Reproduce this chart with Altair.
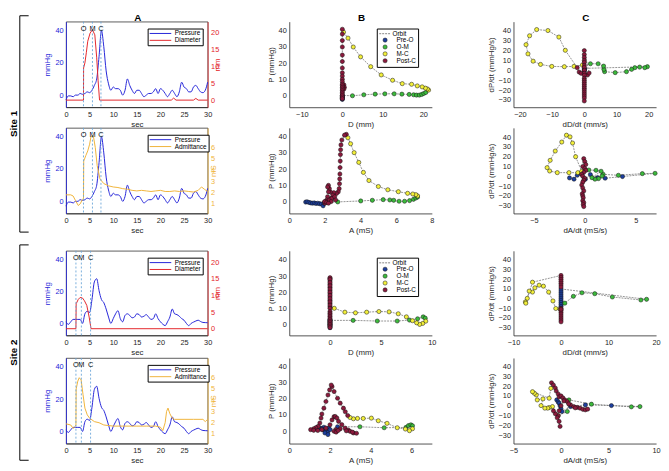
import altair as alt
import pandas as pd

FONT = "Liberation Sans"
BLUE = "#2424d8"
RED = "#e3262a"
GOLD = "#f0b43a"
EVC = "#6aa6d8"
AXC = "#262626"

# ---------------- column A : time series ----------------
T_P = [0, 0.5, 1, 1.5, 2, 2.5, 3, 3.5, 4, 4.5, 5, 5.5, 6, 6.5, 7, 7.5, 8, 8.5, 9, 9.5,
       10, 10.5, 11, 11.5, 12, 12.5, 13, 13.5, 14, 14.5, 15, 15.5, 16, 16.5, 17, 17.5, 18, 18.5, 19, 19.5,
       20, 20.5, 21, 21.5, 22, 22.5, 23, 23.5, 24, 24.5, 25, 25.5, 26, 26.5, 27, 27.5, 28, 28.5, 29, 29.5, 30]
P_SITE1 = [-3, -0.5, -0.5, -1, 0, 0, 1, 0.5, 1, 2, 1.5, 3, 6, 10, 24, 40, 30, 15, 7, 3,
           5, 4, 4, 3, 0, 3, 10, 6, 3, 1, 3, 3, 1, -1, 0, 1, 1, 2, 4, 1,
           4, 3, 1, -1, 1, 3, 1, -1, 2, 8, 5, 4, 2, 2, 5, 6, 4, 2, 1.5, 3, 8]
P_SITE2 = [1, -0.6, 1, 2.5, 2.5, 2.5, 2.5, 0, 6, 7.6, 6.8, 15, 26, 28, 20.5, 15, 13, 9, 4, 0,
           3, 6, 8, 3, 1, 5, 6, 5, 3.5, 4, 6, 5.5, 4, 4.5, 5.5, 4, 2.5, 3, 6, 3,
           1, -0.5, -1.4, 1, 4, 9, 6, 5.5, 4.5, 3, 2, 0, -1.4, 0, 0.8, 1.5, 2, 1.2, 0.6, 0.5, 0.4]

D1_T = [0, 3.7, 3.72, 4.0, 4.3, 4.6, 5.1, 5.6, 6.1, 6.5, 6.8, 7.1, 22.3, 22.8, 23.3, 27.0, 27.5, 28.0, 30]
D1_V = [0, 0, 9.5, 11, 14, 17.4, 19.8, 20.8, 19.3, 12.5, 5.7, 0, 0, 0.6, 0, 0, 0.5, 0, 0]
A1_T = [0, 1, 1.5, 2, 2.6, 3.0, 3.5, 3.7, 3.75, 4.2, 4.6, 5.0, 5.3, 5.8, 6.2, 6.6, 7.2, 8, 9, 10,
        11, 12, 13, 14, 15, 16, 17, 18, 19, 20, 21, 22, 23, 24, 25, 26, 27, 28, 28.7, 29.3, 30]
A1_V = [1.8, 1.8, 1.7, 1.3, 0.85, 1.0, 1.4, 1.5, 4.8, 5.3, 5.7, 6.3, 7.0, 7.0, 6.0, 4.4, 3.2, 2.8, 2.6, 2.5,
        2.45, 2.35, 2.3, 2.2, 2.15, 2.2, 2.15, 2.1, 2.15, 2.2, 2.1, 2.1, 2.15, 2.1, 2.15, 2.1, 2.05, 2.2, 2.5, 2.3, 2.1]
D2_T = [0, 2.1, 2.15, 2.6, 3.0, 3.5, 3.9, 4.4, 4.9, 5.3, 30]
D2_V = [0, 0, 7.5, 8.8, 9.4, 9.2, 8.4, 7.0, 3.5, 0, 0]
A2_T = [0, 1, 1.5, 2.0, 2.1, 2.15, 2.5, 2.8, 3.2, 3.6, 4.0, 4.5, 5.0, 6, 7, 8, 10, 12, 15, 17,
        19, 20, 20.5, 21, 21.3, 21.6, 22, 22.5, 23, 25, 27, 29, 29.5, 30]
A2_V = [1.9, 1.8, 1.5, 1.7, 1.8, 5.0, 5.7, 6.0, 5.8, 4.5, 3.3, 2.7, 2.4, 2.1, 2.0, 1.8, 1.7, 1.7, 1.7, 1.7,
        1.7, 1.6, 1.3, 2.0, 3.0, 3.3, 2.8, 2.4, 2.3, 2.3, 2.3, 2.3, 2.1, 2.3]
EVENT_LABELS = ["O", "M", "C"]
EV_SITE1 = [3.7, 5.6, 7.4]
EV_SITE2 = [2.1, 3.25, 5.2]

# ---------------- columns B and C : phase plots (x list, y list) ----------------
GROUPS = ["Pre-O", "O-M", "M-C", "Post-C"]
FILLS = ["#1d3f9e", "#3cba3c", "#f2ef3a", "#8b1a3d"]

B1_PRE = ([0, 0, 0, 0, 0, 0], [-0.5, -1.5, -2.5, -2, -1, 0])
B1_OM = ([2.5, 5.3, 8.1, 10.5, 12.8, 14.7, 16.5, 17.6, 18.3, 19.0, 19.6, 20.1, 20.6],
         [-0.2, 0.4, 0.8, 1.0, 1.0, 0.8, 0.6, 0.4, 0.2, 0.2, 0.6, 1.2, 1.8])
B1_MC = ([21.3, 21.0, 20.5, 19.7, 18.5, 17.1, 14.8, 12.4, 9.6, 7.0, 4.5, 2.7, 1.4, 0.3],
         [3.3, 4.0, 4.5, 5.3, 5.9, 6.9, 7.3, 9.4, 12.7, 17.8, 23.9, 30.0, 35.5, 39.2])
B1_PC = ([0, 0, 0, 0, 0, 0, 0, 0, 0, 0, 0.4, 0.5, 0.4, 0, 0, 0, 0, 0, 0, 0, 0, 0, 0, 0],
         [41, 38, 34, 30, 25, 21, 17, 14, 12, 10, 6.5, 5, 4, 8.5, 7, 6, 5, 4, 3, 2, 1, 0, -1, -2])

B2_PRE = ([0.92, 1.0, 1.1, 1.2, 1.3, 1.4, 1.5, 1.6, 1.7, 1.8, 1.9, 1.95, 2.0],
          [-0.3, -0.1, -0.5, -0.8, -1.0, -0.8, -1.2, -1.0, -1.3, -1.5, -2.6, -1.0, -0.5])
B2_OM = ([2.72, 4.01, 4.66, 5.27, 5.64, 5.86, 6.16, 6.47, 6.75, 6.97, 7.1, 7.2],
         [-0.2, 0.4, 0.8, 1.2, 1.0, 0.8, 0.2, 0.2, 0.6, 1.4, 2.2, 2.8])
B2_MC = ([7.2, 7.1, 6.93, 6.64, 6.12, 5.53, 5.0, 4.47, 4.16, 3.9, 3.64, 3.44, 3.29],
         [3.5, 4.3, 4.7, 5.1, 6.1, 7.3, 9.3, 13, 18, 24.2, 30.2, 35.7, 39.4])
B2_PC = ([3.2, 3.1, 2.95, 2.9, 2.88, 2.87, 2.86, 2.85, 2.84, 2.83, 2.82, 2.8, 2.75, 2.65, 2.5, 2.45, 2.35,
          2.3, 2.25, 2.2, 2.15, 2.2, 2.15, 2.1, 2.05, 2.0, 1.98, 2.1, 2.25, 2.4, 2.55, 2.6, 2.35, 2.2],
         [41.5, 41, 38, 35, 32, 29, 25, 21, 17, 14, 11, 8, 6, 5, 5.5, 4, 2,
          6, 8, 10, 9, 6, 3, 1, 0, -1, 0, -0.5, 1, 2, 3, 1, 0, -1])

B3_PRE = ([0, 0, 0, 0, 0, 0, 0, 0, 0, 0], [1, 0, -1, -2, -1, 0, 1, 2, 3, 2.5])
B3_OM = ([2.27, 4.64, 6.6, 7.8, 8.6, 9.15, 9.35], [2.5, 2.1, 2.1, 2.7, 3.5, 4.7, 3.9])
B3_MC = ([9.4, 9.1, 8.8, 8.5, 8.1, 7.5, 6.7, 5.8, 4.8, 3.6, 2.5, 1.46, 0.42],
         [2.0, 0.6, 0.0, 1.0, 2.3, 4.7, 6.6, 7.8, 8.0, 7.6, 7.2, 7.6, 10.0])
B3_PC = ([0] * 32,
         [11, 13, 15, 17, 19, 21, 23, 25, 27, 28.5, 29, 28, 26, 24, 22, 20, 18, 16, 14, 12, 10, 8, 7, 6, 5,
          4, 3, 2, 1, 0, -1, -2])

B4_PRE = ([1.37, 1.53, 1.66, 1.77, 1.89, 1.94, 1.8, 1.7, 1.6, 1.75, 1.9, 2.0, 2.37],
          [2.4, 2.0, 1.0, 0.4, -0.4, 2.0, 1.5, 2.5, 1.5, -1.0, -2.0, 1.0, 2.8])
B4_OM = ([3.47, 4.66, 5.73, 5.85, 5.97, 6.05], [2.8, 2.2, 2.4, 3.5, 4.0, 3.4])
B4_MC = ([6.05, 5.9, 5.7, 5.3, 4.8, 4.37, 4.03, 3.63, 3.35, 3.15, 2.98],
         [1.6, 0.4, 1.4, 2.2, 4.9, 6.5, 8.1, 7.9, 7.9, 7.7, 8.5])
B4_PC = ([2.87, 2.75, 2.66, 2.5, 2.37, 2.2, 2.1, 2.06, 1.98, 1.9, 1.8, 1.7, 1.6, 1.56, 1.5, 1.42, 1.3, 1.2,
          1.05, 1.2, 1.4, 1.6, 1.8, 2.0, 2.1, 2.2, 2.26, 2.34, 2.42, 2.58, 2.74, 2.9, 2.98, 3.15, 3.3,
          3.1, 2.8, 2.5, 2.3, 2.2, 2.3, 2.4],
         [9.7, 12, 14.2, 17.3, 20.3, 24.4, 27.4, 28.4, 25.4, 22.3, 18.3, 14.2, 10.6, 8.1, 5.1, 3.0, 2.2, 1.6,
          1.0, 0.6, 0.5, 1, 2, 4, 7, 9, 9.1, 8.1, 6.1, 4.1, 2.0, 0.8, 0, -1, -1.2,
          -0.5, 0.3, 1.5, 1.0, 0, -0.5, 0.5])

C1_PRE = ([0, 0, 0.1, 0], [1, -0.7, 0.5, 2])
C1_OM = ([19.6, 18.8, 17.2, 15.7, 14.7, 13.1, 9.6, 6.3, 6.1, 6.0, 4.3, 1.9],
         [3.7, 2.7, 3.3, 2.7, 1.0, -1.3, -2.3, -1.3, 1.0, 4.3, 6.7, 6.7])
C1_MC = ([-0.6, -3.2, -6.2, -10.1, -13.6, -15.9, -17.5, -18.1, -17.0, -14.8, -11.3, -7.9, -5.9],
         [5.3, 4.0, 3.7, 4.0, 6.0, 9.3, 16.7, 26, 35, 41.3, 40.3, 33.7, 20.3])
C1_PC = ([-2.2, -1.6, -1.0, 0.2, 1.0, 1.5, 0, 0, 0, 0, 0, 0, 0, 0, 0, 0, 0, 0, 0, 0, 0, 0, 0, 0, 0, 0, 0, 0],
         [2.7, -1.7, -3, -4, -4.7, -2.7, 20, 16, 13, 10, 8, 5, 3, 0, -3, -5, -8, -10, -12, -14, -16, -18,
          -20, -22, -24, -26, -28, -31])

C2_PRE = ([-1.5, -1.06, -0.74, -0.4, 0.06, 0.55, 1.26, 2.0, 3.7], [-1.7, -3, 1, 3, -3, 1.7, -1.4, -2, -0.3])
C2_OM = ([6.9, 5.65, 3.3, 1.8, 1.7, 1.35, 1.0, 0.7, 1.6, 1.1, 0.4],
         [3, 2.7, 1, 2, 0.3, -2.4, -3, -1.4, 5.1, 6.1, 6.4])
C2_MC = ([-0.68, -1.55, -2.7, -3.45, -3.7, -3.4, -2.9, -2.26, -1.8, -1.45, -1.2, -0.9, -0.3],
         [3.7, 3.7, 3.7, 5.4, 8.8, 16.3, 25.8, 35, 42, 40.3, 34, 20, 5])
C2_PC = ([-0.1, 0, 0.1, -0.2, 0, 0.1, -0.1, -0.3, -0.2, 0, -0.1, -0.2, -0.3, -0.2, -0.1, -0.25, -0.2,
          -0.15, -0.2, -0.1, -0.15, -0.1],
         [18, 15, 12, 10, 8, 6, 4, 2, 0, -2, -4, -6, -9, -12, -15, -18, -20, -22, -25, -27, -29, -31])

C3_PRE = ([0] * 10, [-8, -6, -4, -2, 0, 2, 4, 6, 8, 10])
C3_OM = ([18.0, 16.8, 10.8, 7.1, 4.4, 2.6, 0.8], [-0.7, -1.4, 1.7, 5.1, 6.1, 2.4, -4.7])
C3_MC = ([-0.2, -1.1, -1.7, -2.6, -3.7, -4.6, -5.5, -6.0, -6.7, -7.1, -7.5, -7.4, -6.0],
         [-10.8, -10.2, -2.4, 6.8, 12.9, 13.9, 11.2, 6.8, 7.8, 0.3, -3.4, -4.7, 17])
C3_PC = ([0] * 16, [24, 22, 20, 18, 16, 14, 12, -10, -12, -14, -16, -18, -20, -22, -24, -11])

C4_PRE = ([-0.45, -0.3, -0.2, -0.1, 0, 0.1, 1.0, 2.56, 5.3], [6, 4, 2.7, 0, -3, -5.7, -0.7, 1, 0.3])
C4_OM = ([8.3, 7.4, 3.2, 0.83, 0.66], [-0.7, -1.0, 1.7, 6, -5.7])
C4_MC = ([-0.3, -0.9, -1.25, -1.4, -1.7, -2.1, -1.9, -2.5, -2.6, -2.8, -3.0, -1.25, -1.07],
         [-9.7, -0.7, -1.7, -2.3, -2.3, 0.3, 7, 6, 11, 12.7, 14.3, 7.7, 17.7])
C4_PC = ([-1.0, -0.8, -0.6, -0.5, -0.3, -0.2, 0, 0.2, 0.4, 0.66, 1.0, 1.35, 1.7, 2.0, 2.3, 2.56, 2.8, 1.5,
          0.8, 0.3, 0, -0.2, -0.3, -0.2, -0.1, -0.4, -0.6, -0.8],
         [23.3, 21, 18, 15, 12, 9, 10, 8, 6, 4.3, 1, -0.7, -1.5, -2.3, -3.5, -4, -3.3, -2,
          2, 5, 0, -5, -10, -15.7, -20.7, -12, -8, -5])

# ---------------- layout sizes ----------------
WA, WB, WC = 144, 145, 145
HROWS = [87, 87, 86, 87]
GAPS = [21, 38, 23]
DUMMY = pd.DataFrame({"k": [0]})


def heading(text, w):
    return alt.Chart(DUMMY).mark_text(fontSize=10, fontWeight="bold", font=FONT, align="center",
                                      baseline="top", color="black").encode(
        x=alt.value(w / 2 + 1), y=alt.value(-9), text=alt.value(text))


def a_panel(p_v, s_t, s_v, s_name, s_col, s_dom, s_ticks, s_unit, ev, h, title=None, site=None):
    pdf = pd.DataFrame({"t": T_P, "v": p_v, "series": "Pressure"})
    sdf = pd.DataFrame({"t": s_t, "v": s_v, "series": s_name})
    edf = pd.DataFrame({"t": ev, "lab": EVENT_LABELS})
    xsc = alt.Scale(domain=[0, 30], nice=False, zero=False)
    xax = alt.Axis(values=[0, 5, 10, 15, 20, 25, 30], title="sec")
    leg = alt.Legend(orient="none", legendX=83, legendY=7, title=None, fillColor="white",
                     strokeColor="black", padding=1.5, labelFontSize=6.5, labelFont=FONT,
                     symbolType="stroke", symbolSize=484, symbolStrokeWidth=1, rowPadding=0,
                     clipHeight=7, labelOffset=3, cornerRadius=0)
    col = alt.Color("series:N", scale=alt.Scale(domain=["Pressure", s_name], range=[BLUE, s_col]), legend=leg)
    l1 = alt.Chart(pdf).mark_line(strokeWidth=1, interpolate="monotone").encode(
        x=alt.X("t:Q", scale=xsc, axis=xax),
        y=alt.Y("v:Q", scale=alt.Scale(domain=[-7.5, 45.5], nice=False, zero=False),
                axis=alt.Axis(values=[0, 20, 40], title="mmHg", labelColor=BLUE, titleColor=BLUE,
                              domainColor=BLUE)),
        color=col)
    l2 = alt.Chart(sdf).mark_line(strokeWidth=1).encode(
        x=alt.X("t:Q", scale=xsc, axis=xax),
        y=alt.Y("v:Q", scale=alt.Scale(domain=s_dom, nice=False, zero=False),
                axis=alt.Axis(orient="right", values=s_ticks, title=s_unit, labelColor=s_col,
                              titleColor=s_col, domainColor=s_col, titleAngle=270)),
        color=col)
    rules = alt.Chart(edf).mark_rule(color=EVC, strokeDash=[2, 2], strokeWidth=0.9).encode(
        x=alt.X("t:Q", scale=xsc, axis=xax))
    txt = alt.Chart(edf).mark_text(fontSize=7.5, font=FONT, baseline="middle", color="#111").encode(
        x=alt.X("t:Q", scale=xsc, axis=xax), y=alt.value(7), text="lab:N")
    layers = [l1, l2, rules, txt]
    if title:
        layers.append(heading(title, WA))
    if site is not None:
        layers += [
            alt.Chart(DUMMY).mark_rule(color="black", strokeWidth=1).encode(
                x=alt.value(-47), y=alt.value(-6), y2=alt.value(h + 127)),
            alt.Chart(DUMMY).mark_rule(color="black", strokeWidth=1).encode(
                x=alt.value(-47), x2=alt.value(-38), y=alt.value(-6)),
            alt.Chart(DUMMY).mark_rule(color="black", strokeWidth=1).encode(
                x=alt.value(-47), x2=alt.value(-38), y=alt.value(h + 127)),
            alt.Chart(DUMMY).mark_text(angle=270, fontSize=10, fontWeight="bold", font=FONT,
                                       align="center", baseline="middle", color="black").encode(
                x=alt.value(-53), y=alt.value((h + 121) / 2), text=alt.value(site)),
        ]
    ch = alt.layer(*layers).resolve_scale(y="independent")
    return ch.properties(width=WA, height=h, view=alt.ViewBackground(stroke="#333", strokeWidth=0.8))


def scatter_panel(groups, xdom, xvals, xtitle, ydom, yvals, ytitle, w, h, legend=False, title=None):
    recs = []
    for g, (xs, ys) in zip(GROUPS, groups):
        for x, y in zip(xs, ys):
            recs.append((x, y, g))
    df = pd.DataFrame(recs, columns=["x", "y", "grp"])
    df["idx"] = list(range(len(df)))
    df["orb"] = "Orbit"
    X = alt.X("x:Q", scale=alt.Scale(domain=xdom, nice=False, zero=False),
              axis=alt.Axis(values=xvals, title=xtitle))
    Y = alt.Y("y:Q", scale=alt.Scale(domain=ydom, nice=False, zero=False),
              axis=alt.Axis(values=yvals, title=ytitle))
    if legend:
        oleg = alt.Legend(orient="none", legendX=91, legendY=9, title=None, padding=0,
                          labelFontSize=6.5, labelFont=FONT, symbolType="stroke", symbolSize=121,
                          symbolStrokeWidth=0.8, symbolStrokeColor="#666", labelOffset=2, rowPadding=0,
                          clipHeight=6.5, zindex=3)
        pleg = alt.Legend(orient="none", legendX=89, legendY=7, title=" ", titleFontSize=6.5,
                          titlePadding=0, fillColor="white", strokeColor="black", padding=2,
                          labelFontSize=6.5, labelFont=FONT, symbolType="circle", symbolSize=18,
                          symbolStrokeColor="#111", symbolStrokeWidth=0.5, symbolOffset=3.2,
                          labelOffset=8.3, rowPadding=0, cornerRadius=0, zindex=1)
    else:
        oleg = None
        pleg = None
    orbit = alt.Chart(df).mark_line(color="#666", strokeWidth=0.7).encode(
        x=X, y=Y, order="idx:Q",
        strokeDash=alt.StrokeDash("orb:N", scale=alt.Scale(domain=["Orbit"], range=[[2, 1]]), legend=oleg))
    pts = alt.Chart(df).mark_point(filled=True, opacity=1, size=18, stroke="#111", strokeWidth=0.5).encode(
        x=X, y=Y, order="idx:Q",
        fill=alt.Fill("grp:N", scale=alt.Scale(domain=GROUPS, range=FILLS), legend=pleg))
    layers = [orbit, pts]
    if title:
        layers.append(heading(title, w))
    return alt.layer(*layers).properties(width=w, height=h)


PY = [0, 10, 20, 30, 40]
DPY = [-30, -20, -10, 0, 10, 20, 30, 40]

a1 = a_panel(P_SITE1, D1_T, D1_V, "Diameter", RED, [-2.1, 23.2], [0, 5, 10, 15, 20], "mm",
             EV_SITE1, HROWS[0], title="A", site="Site 1")
a2 = a_panel(P_SITE1, A1_T, A1_V, "Admittance", GOLD, [0.15, 7.75], [1, 2, 3, 4, 5, 6], "mS",
             EV_SITE1, HROWS[1])
a3 = a_panel(P_SITE2, D2_T, D2_V, "Diameter", RED, [-2.0, 23.4], [0, 5, 10, 15, 20], "mm",
             EV_SITE2, HROWS[2], site="Site 2")
a4 = a_panel(P_SITE2, A2_T, A2_V, "Admittance", GOLD, [0.15, 7.75], [1, 2, 3, 4, 5, 6], "mS",
             EV_SITE2, HROWS[3])

b1 = scatter_panel([B1_PRE, B1_OM, B1_MC, B1_PC], [-13.1, 22.1], [-10, 0, 10, 20], "D (mm)",
                   [-7.3, 45.7], PY, "P (mmHg)", WB, HROWS[0], legend=True, title="B")
b2 = scatter_panel([B2_PRE, B2_OM, B2_MC, B2_PC], [0, 8], [0, 2, 4, 6, 8], "A (mS)",
                   [-7.3, 45.5], PY, "P (mmHg)", WB, HROWS[1])
b3 = scatter_panel([B3_PRE, B3_OM, B3_MC, B3_PC], [-4, 10], [0, 5, 10], "D (mm)",
                   [-6.8, 45.7], PY, "P (mmHg)", WB, HROWS[2], legend=True)
b4 = scatter_panel([B4_PRE, B4_OM, B4_MC, B4_PC], [0, 7], [0, 2, 4, 6], "A (mS)",
                   [-7.5, 45], PY, "P (mmHg)", WB, HROWS[3])

c1 = scatter_panel([C1_PRE, C1_OM, C1_MC, C1_PC], [-22, 22.3], [-20, -10, 0, 10, 20], "dD/dt (mm/s)",
                   [-37.3, 49.3], DPY, "dP/dt (mmHg/s)", WC, HROWS[0], title="C")
c2 = scatter_panel([C2_PRE, C2_OM, C2_MC, C2_PC], [-7, 7], [-5, 0, 5], "dA/dt (mS/s)",
                   [-38, 49.5], DPY, "dP/dt (mmHg/s)", WC, HROWS[1])
c3 = scatter_panel([C3_PRE, C3_OM, C3_MC, C3_PC], [-10, 20], [-10, 0, 10, 20], "dD/dt (mm/s)",
                   [-38, 49.5], DPY, "dP/dt (mmHg/s)", WC, HROWS[2])
c4 = scatter_panel([C4_PRE, C4_OM, C4_MC, C4_PC], [-5, 10], [-5, 0, 5, 10], "dA/dt (mS/s)",
                   [-38, 48.3], DPY, "dP/dt (mmHg/s)", WC, HROWS[3])


def spacer(h):
    return alt.Chart(DUMMY).mark_point(opacity=0).encode(
        x=alt.value(0), y=alt.value(0)).properties(width=10, height=h)


items = ([a1, b1, c1] + [spacer(GAPS[0])] * 3 + [a2, b2, c2] + [spacer(GAPS[1])] * 3 +
         [a3, b3, c3] + [spacer(GAPS[2])] * 3 + [a4, b4, c4])

chart = alt.concat(*items, columns=3, spacing={"row": 0, "column": 83},
                   bounds="flush", align="each").resolve_scale(
    color="independent", fill="independent", strokeDash="independent"
).properties(padding={"left": 0, "top": 0, "right": 0, "bottom": 0}).configure(
    font=FONT, background="white"
).configure_view(stroke="transparent").configure_axis(
    labelFont=FONT, titleFont=FONT, labelFontSize=7.5, titleFontSize=8, titleFontWeight="normal",
    ticks=False, grid=False, domainColor=AXC, labelColor=AXC, titleColor=AXC, labelPadding=3,
    titlePadding=3, domainWidth=0.8, labelFlush=False, labelOverlap=False
)

chart.save("out.html", embed_options={"renderer": "svg", "actions": False})
